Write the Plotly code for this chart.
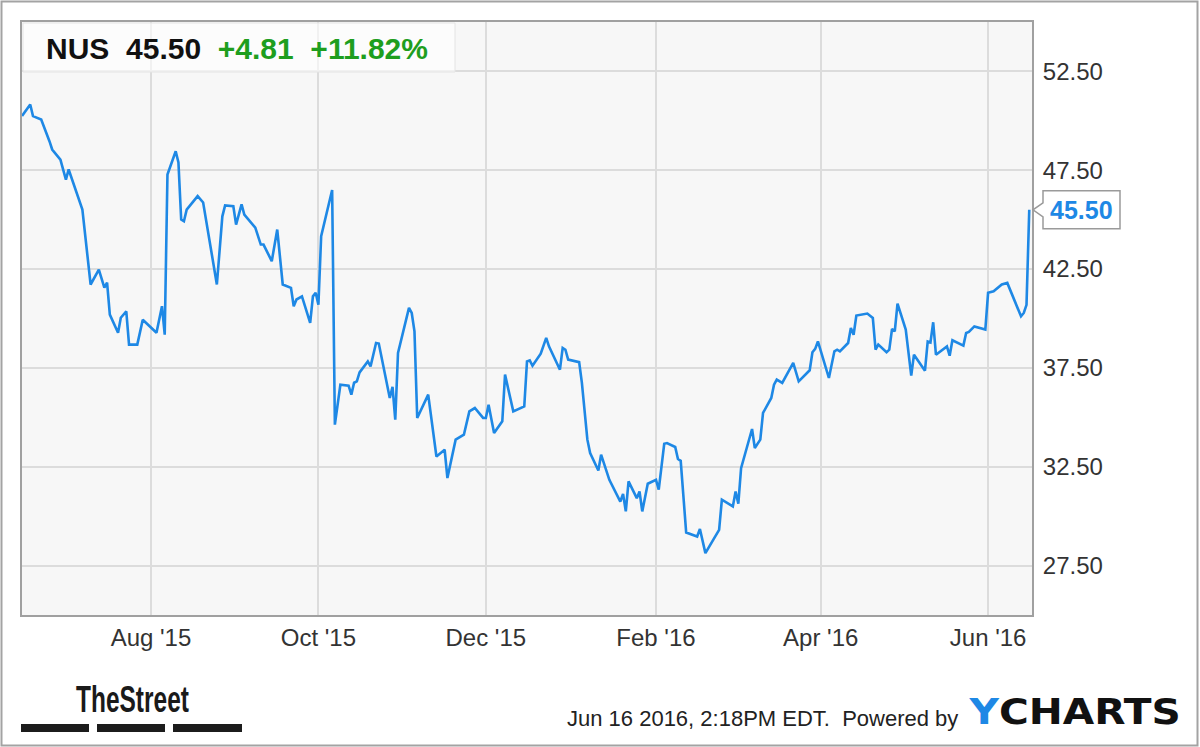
import plotly.graph_objects as go

# ---------------- data ----------------
ticker = "NUS"
last_price = 45.50
change = 4.81
change_pct = 11.82
timestamp = "Jun 16 2016, 2:18PM EDT."

dates = (
    ["2015-06-%02d" % d for d in [15, 18, 19, 22, 25, 26, 29]]
    + ["2015-07-%02d" % d for d in [1, 2, 7, 10, 13, 15, 16, 17, 20, 21, 23, 24, 27, 29]]
    + ["2015-08-%02d" % d for d in [3, 5, 6, 7, 10, 11, 12, 13, 14, 18, 20, 25, 27, 28, 31]]
    + ["2015-09-%02d" % d for d in [1, 3, 4, 8, 10, 11, 14, 16, 18, 21, 22, 23, 25, 28, 29, 30]]
    + ["2015-10-%02d" % d for d in [1, 2, 6, 7, 9, 12, 13, 14, 15, 16, 19, 20, 22, 23, 27, 28, 29, 30]]
    + ["2015-11-%02d" % d for d in [3, 4, 5, 6, 10, 13, 16, 17, 20, 23, 25, 27, 30]]
    + ["2015-12-%02d" % d for d in [1, 2, 4, 7, 8, 11, 15, 16, 17, 18, 21, 23, 24, 28, 29, 30, 31]]
    + ["2016-01-%02d" % d for d in [4, 5, 7, 8, 11, 12, 15, 19, 20, 21, 22, 25, 26, 27, 29]]
    + ["2016-02-%02d" % d for d in [1, 2, 4, 5, 8, 9, 10, 12, 16, 17, 19, 22, 24, 25, 29]]
    + ["2016-03-%02d" % d for d in [1, 2, 3, 7, 8, 10, 11, 14, 15, 16, 18, 22, 24, 28, 29, 30, 31]]
    + ["2016-04-%02d" % d for d in [4, 6, 7, 8, 11, 12, 13, 14, 18, 20, 21, 22, 25, 26, 27, 28, 29]]
    + ["2016-05-%02d" % d for d in [2, 4, 5, 9, 10, 11, 12, 13, 17, 18, 19, 23, 24, 25, 27, 31]]
    + ["2016-06-%02d" % d for d in [1, 3, 6, 8, 13, 14, 15, 16]]
)

prices = (
    [50.24, 50.83, 50.24, 50.07, 48.97, 48.55, 48.04]
    + [47.03, 47.54, 45.51, 41.72, 42.47, 41.56, 41.82, 40.20, 39.28, 40.04, 40.36, 38.68, 38.68, 39.94]
    + [39.28, 40.62, 39.18, 47.28, 48.46, 47.89, 45.01, 44.92, 45.51, 46.19, 45.87, 41.72, 45.17, 45.72, 45.68]
    + [44.75, 45.77, 45.26, 44.60, 43.74, 43.74, 42.90, 44.50, 41.72, 41.55, 40.62, 40.96, 41.12, 39.78, 41.12, 41.30]
    + [40.70, 44.16, 46.50, 34.63, 36.65, 36.60, 36.15, 36.75, 36.82, 37.27, 37.83, 37.58, 38.76, 38.73, 35.98, 36.54, 34.88, 38.26]
    + [40.54, 40.28, 39.35, 34.97, 36.15, 33.02, 33.36, 31.93, 33.87, 34.12, 35.30, 35.47, 34.97]
    + [34.97, 35.64, 34.21, 34.80, 37.16, 35.30, 35.55, 37.83, 37.88, 37.61, 38.22, 39.02, 38.59, 37.41, 38.51, 38.42, 37.92]
    + [37.79, 36.74, 33.87, 33.19, 32.31, 33.11, 31.84, 30.74, 31.13, 30.24, 31.76, 30.91, 31.25, 30.24, 31.64]
    + [31.84, 31.34, 33.66, 33.70, 33.50, 32.89, 32.80, 29.17, 28.97, 29.35, 28.13, 28.84, 29.31, 30.83, 30.49]
    + [31.25, 30.63, 32.43, 34.41, 33.45, 33.87, 35.22, 35.98, 36.65, 36.91, 36.74, 37.75, 36.82, 37.38, 38.29, 38.46, 38.84]
    + [36.99, 38.34, 38.42, 38.34, 38.76, 39.52, 39.18, 40.15, 40.25, 40.03, 38.42, 38.68, 38.29, 38.42, 39.47, 39.35, 40.75]
    + [39.44, 37.11, 38.17, 37.36, 38.84, 38.79, 39.81, 38.17, 38.59, 38.12, 38.90, 38.63, 39.27, 39.32, 39.60, 39.44]
    + [41.30, 41.38, 41.72, 41.80, 40.11, 40.28, 40.69, 45.50]
)

x_tick_vals = ["2015-08-01", "2015-10-01", "2015-12-01", "2016-02-01", "2016-04-01", "2016-06-01"]
x_tick_text = ["Aug '15", "Oct '15", "Dec '15", "Feb '16", "Apr '16", "Jun '16"]
y_tick_vals = [27.5, 32.5, 37.5, 42.5, 47.5, 52.5]
y_tick_text = ["27.50", "32.50", "37.50", "42.50", "47.50", "52.50"]
x_range = ["2015-06-15", "2016-06-17"]
y_range = [25, 55]

# ---------------- styling ----------------
LINE = "#1e88e5"
GREEN = "#1e9e1e"
FONT = "Liberation Sans, Arial, sans-serif"
W, H = 1200, 747
L, R, T, B = 22, 168, 22, 132
PW, PH = W - L - R, H - T - B


def px_x(p):
    return (p - L) / PW


def px_y(p):
    return (H - B - p) / PH


fig = go.Figure()
fig.add_trace(go.Scatter(x=dates, y=prices, mode="lines",
                         line=dict(color=LINE, width=2.6), hoverinfo="skip"))

shapes = []
# outer frame
shapes.append(dict(type="rect", xref="paper", yref="paper",
                   x0=px_x(1.5), x1=px_x(1197.5), y0=px_y(745.5), y1=px_y(1.5),
                   line=dict(color="#a3a3a3", width=2), fillcolor="rgba(0,0,0,0)", layer="below"))
# header box
shapes.append(dict(type="rect", xref="paper", yref="paper",
                   x0=px_x(23), x1=px_x(455), y0=px_y(72), y1=px_y(23),
                   line=dict(color="#e4e4e4", width=1), fillcolor="rgba(255,255,255,0.6)", layer="above"))
# TheStreet bars
for a, b in [(21, 89), (97, 165), (173, 242)]:
    shapes.append(dict(type="rect", xref="paper", yref="paper",
                       x0=px_x(a), x1=px_x(b), y0=px_y(732), y1=px_y(724),
                       line=dict(width=0), fillcolor="#1c1c1c"))
# last price callout
yp = (last_price - y_range[0]) / (y_range[1] - y_range[0])
hb = 19 / PH
hp = 7 / PH
bx0, bx1, tip = px_x(1043), px_x(1120), px_x(1033)
path = (f"M {bx0},{yp + hb} L {bx1},{yp + hb} L {bx1},{yp - hb} L {bx0},{yp - hb} "
        f"L {bx0},{yp - hp} L {tip},{yp} L {bx0},{yp + hp} Z")
shapes.append(dict(type="path", xref="paper", yref="paper", path=path,
                   line=dict(color="#9a9a9a", width=1.5), fillcolor="white"))

annotations = [
    dict(xref="paper", yref="paper", x=px_x(44), y=px_y(49), xanchor="left", yanchor="middle",
         showarrow=False,
         text=(f"<b>{ticker}</b>&nbsp;&nbsp;<b>{last_price:.2f}</b>&nbsp;&nbsp;"
               f"<span style='color:{GREEN}'><b>+{change:.2f}</b>&nbsp;&nbsp;<b>+{change_pct:.2f}%</b></span>"),
         font=dict(family=FONT, size=30, color="#111111")),
    dict(xref="paper", yref="paper", x=(bx0 + bx1) / 2, y=yp, xanchor="center", yanchor="middle",
         showarrow=False, text=f"<b>{last_price:.2f}</b>",
         font=dict(family=FONT, size=25, color=LINE)),
    dict(xref="paper", yref="paper", x=px_x(960), y=px_y(718), xanchor="right", yanchor="middle",
         showarrow=False, text=f"{timestamp}&nbsp;&nbsp;Powered by",
         font=dict(family=FONT, size=22, color="#222222")),
    dict(xref="paper", yref="paper", x=px_x(967), y=px_y(711), xanchor="left", yanchor="middle",
         showarrow=False, text=f"<b><span style='color:{LINE}'>Y</span>CHARTS</b>",
         font=dict(family="DejaVu Sans, sans-serif", size=36, color="#111111")),
    dict(xref="paper", yref="paper", x=px_x(74), y=px_y(699), xanchor="left", yanchor="middle",
         showarrow=False, text="<b>TheStreet</b>",
         font=dict(family=FONT, size=36, color="#1a1a1a")),
]

fig.update_layout(
    width=W, height=H,
    margin=dict(l=L, r=R, t=T, b=B),
    paper_bgcolor="white", plot_bgcolor="#f7f7f7",
    showlegend=False,
    shapes=shapes, annotations=annotations,
    xaxis=dict(type="date", range=x_range, tickvals=x_tick_vals, ticktext=x_tick_text,
               showgrid=True, gridcolor="#dcdcdc", gridwidth=2,
               showline=True, linecolor="#a0a0a0", linewidth=2, mirror=True,
               ticks="", ticklabelstandoff=0, zeroline=False, fixedrange=True,
               tickfont=dict(family=FONT, size=24, color="#333333")),
    yaxis=dict(range=y_range, side="right", tickvals=y_tick_vals, ticktext=y_tick_text,
               showgrid=True, gridcolor="#dcdcdc", gridwidth=2,
               showline=True, linecolor="#a0a0a0", linewidth=2, mirror=True,
               ticks="", ticklabelstandoff=4, zeroline=False, fixedrange=True,
               tickfont=dict(family=FONT, size=24, color="#333333")),
)

post = """
document.body.style.margin = '0';
document.body.style.padding = '0';
document.querySelectorAll('text.annotation-text').forEach(function (e) {
  var s = e.textContent, k = null;
  if (s === 'TheStreet') k = 0.68;
  if (s === 'YCHARTS') k = 1.13;
  if (k) {
    e.style.transformBox = 'fill-box';
    e.style.transformOrigin = '0% 50%';
    e.style.transform = 'scaleX(' + k + ')';
  }
});
"""

fig.write_html("out.html", config={"displayModeBar": False}, post_script=post)
